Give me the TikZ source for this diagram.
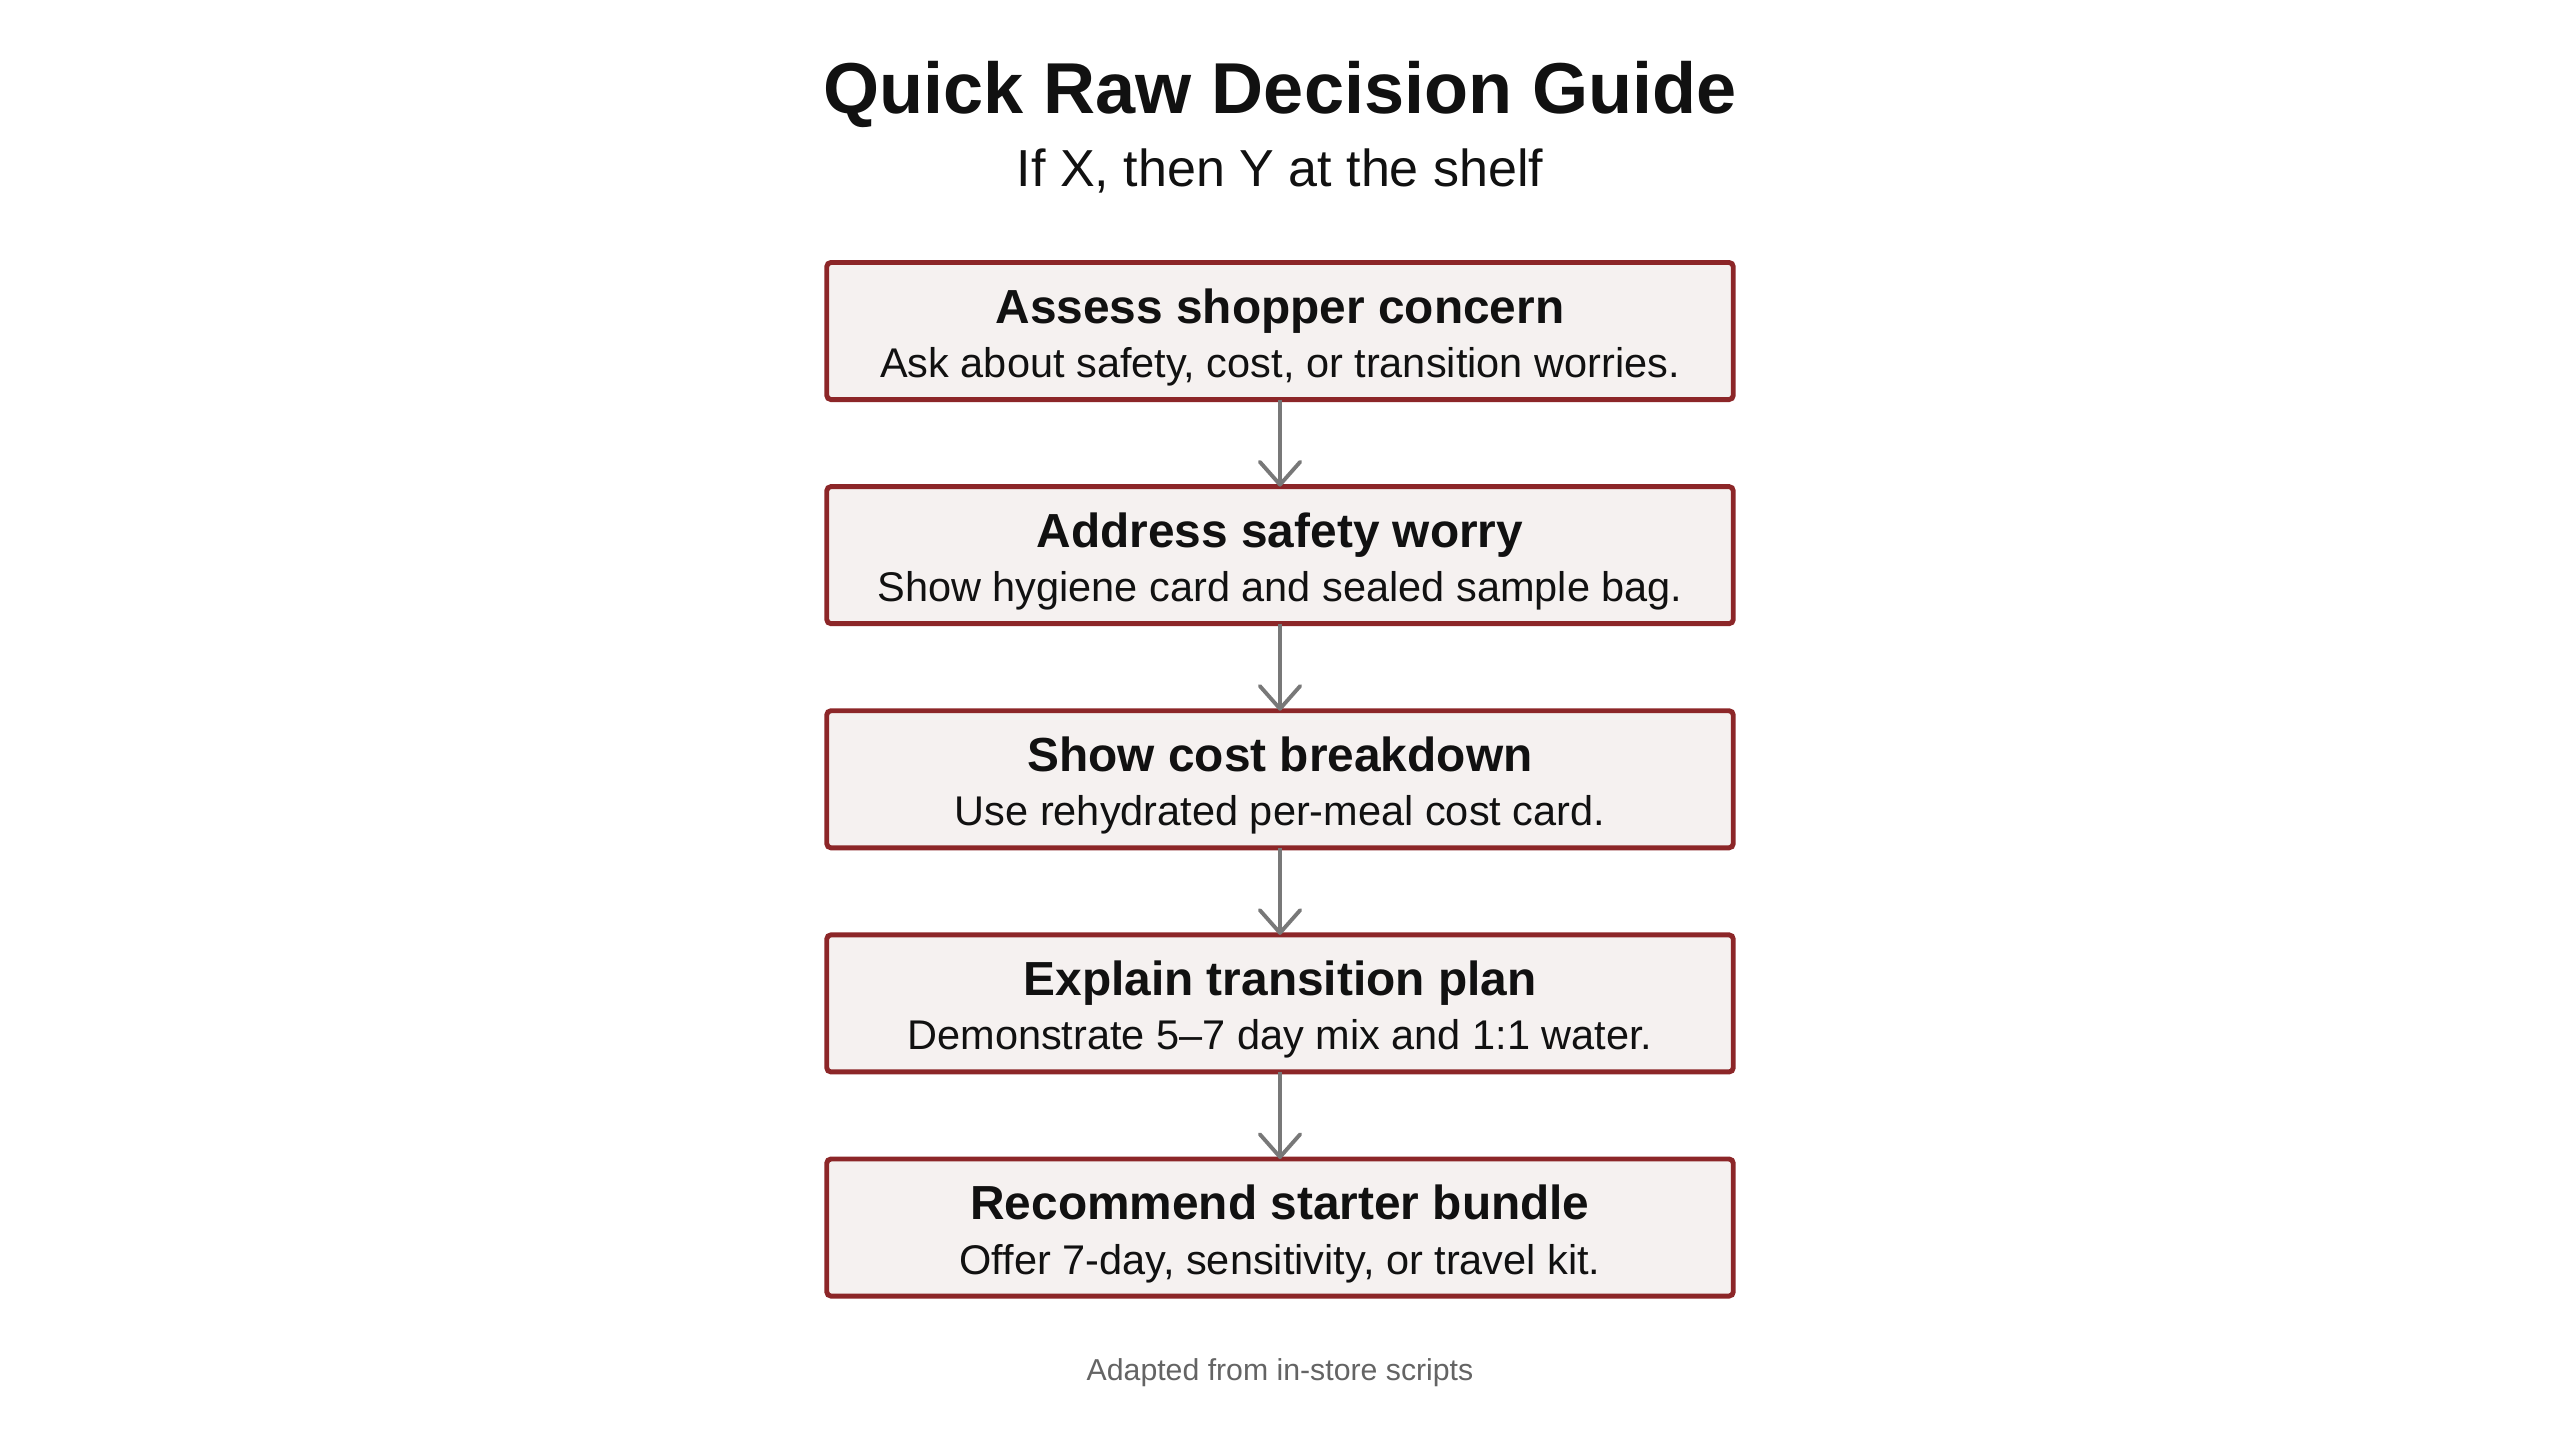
\documentclass[tikz,border=0pt]{standalone}
\usepackage{fontspec}
\setmainfont{Liberation Sans}
\usepackage{tikz}
\usetikzlibrary{positioning}
\usetikzlibrary{arrows.meta}

\definecolor{boxred}{RGB}{140,38,40}
\definecolor{boxfill}{RGB}{245,241,240}
\definecolor{flowgray}{RGB}{120,120,120}
\definecolor{inkblack}{RGB}{17,17,17}
\definecolor{notegray}{RGB}{100,100,100}

\tikzset{
  stage/.style={draw=boxred, fill=boxfill, line width=1.4pt, rounded corners=1.2pt,
    minimum width=9.06cm, minimum height=1.37cm, inner sep=0pt, outer sep=0pt,
    align=center, text=inkblack, font=\fontsize{11.8}{15.4}\selectfont},
  flow/.style={draw=flowgray, line width=1.1pt,
    -{Straight Barb[round,length=6.5pt,width=11.5pt]}},
}
\newcommand{\stagehead}[1]{{\bfseries\fontsize{13.6}{15.4}\selectfont\rule{0pt}{13.5pt}#1}}

\begin{document}
\begin{tikzpicture}[x=0.01cm, y=-0.01cm]
\fill[white!98!boxfill] (0,0) rectangle (2560,1429);
\useasboundingbox (0,0) rectangle (2560,1429);

% Define nodes
\node[anchor=base, text=inkblack, font=\bfseries\fontsize{20.5}{24}\selectfont] (title) at (1280,113) {Quick Raw Decision Guide};
\node[anchor=base, text=inkblack, font=\fontsize{14.8}{18}\selectfont] (subtitle) at (1280,186) {If X, then Y at the shelf};

\node[stage] (assess) at (1280,331) {\stagehead{Assess shopper concern}\\Ask about safety, cost, or transition worries.};
\node[stage, below=0.87cm of assess] (safety) {\stagehead{Address safety worry}\\Show hygiene card and sealed sample bag.};
\node[stage, below=0.87cm of safety] (cost) {\stagehead{Show cost breakdown}\\Use rehydrated per-meal cost card.};
\node[stage, below=0.87cm of cost] (transition) {\stagehead{Explain transition plan}\\Demonstrate 5–7 day mix and 1:1 water.};
\node[stage, below=0.87cm of transition] (bundle) {\stagehead{Recommend starter bundle}\\Offer 7-day, sensitivity, or travel kit.};

\node[anchor=base, text=notegray, font=\fontsize{8.6}{10}\selectfont] (source) at (1280,1380) {Adapted from in-store scripts};

% Edges
\draw[flow] (assess) -- (safety);
\draw[flow] (safety) -- (cost);
\draw[flow] (cost) -- (transition);
\draw[flow] (transition) -- (bundle);
\end{tikzpicture}
\end{document}
